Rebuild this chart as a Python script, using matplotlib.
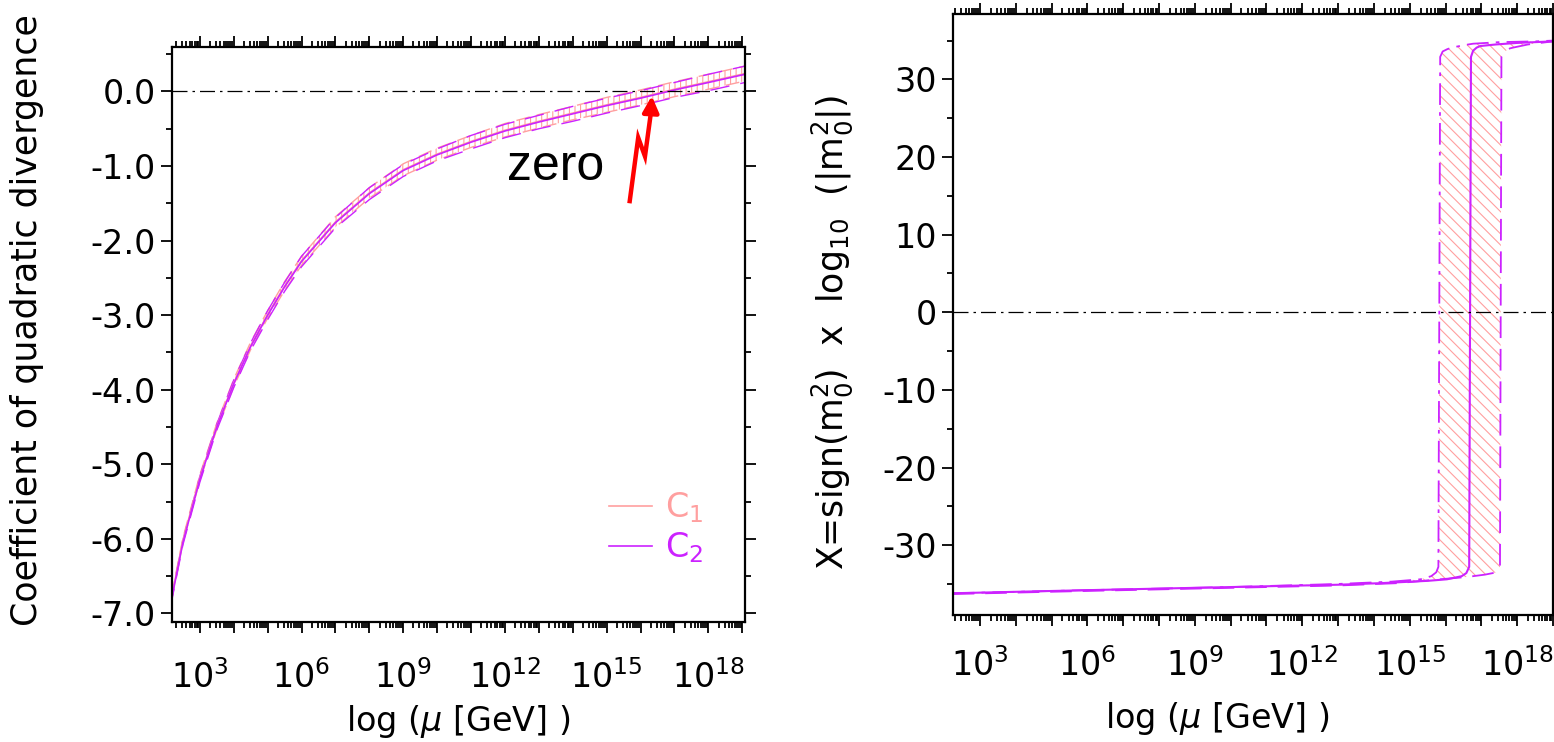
import numpy as np
import matplotlib
matplotlib.use("Agg")
import matplotlib.pyplot as plt
from matplotlib.ticker import LogLocator, FuncFormatter, MultipleLocator, NullFormatter, FormatStrFormatter

# ---------------- data: left panel ----------------
log_mu_coef = [2.17, 2.5, 3.0, 3.5, 4.0, 4.5, 5.0, 5.5, 6.0, 7.0, 8.0, 9.0,
               10.0, 11.0, 12.0, 13.0, 14.0, 15.0, 16.0, 17.0, 18.0, 19.08]
c1_central = [-6.78, -6.02, -5.18, -4.49, -3.91, -3.41, -2.99, -2.61, -2.27, -1.75, -1.36, -1.05,
              -0.84, -0.67, -0.52, -0.40, -0.29, -0.18, -0.08, 0.03, 0.13, 0.24]
c1_err = [0.03, 0.03, 0.04, 0.04, 0.05, 0.05, 0.05, 0.06, 0.06, 0.07, 0.07, 0.08,
          0.08, 0.08, 0.09, 0.09, 0.09, 0.10, 0.10, 0.10, 0.10, 0.10]
c2_central = [-6.80, -6.05, -5.20, -4.50, -3.92, -3.42, -3.00, -2.62, -2.28, -1.76, -1.37, -1.06,
              -0.85, -0.68, -0.53, -0.41, -0.30, -0.19, -0.09, 0.02, 0.12, 0.23]
c2_err = [0.03, 0.03, 0.04, 0.04, 0.05, 0.05, 0.06, 0.06, 0.07, 0.07, 0.08, 0.08,
          0.08, 0.09, 0.09, 0.09, 0.10, 0.10, 0.10, 0.10, 0.11, 0.11]
coef_yticks = [0.0, -1.0, -2.0, -3.0, -4.0, -5.0, -6.0, -7.0]
legend_labels = ["C$_1$", "C$_2$"]

# ---------------- data: right panel ----------------
log_mu_x_central = [2.24, 6.0, 10.0, 13.0, 14.17, 15.5, 16.04, 16.45, 16.58, 16.66,
                    16.71, 16.77, 16.87, 16.97, 17.4, 18.0, 19.0]
x_central = [-36.2, -35.8, -35.4, -35.1, -34.9, -34.6, -34.4, -34.0, -33.6, -32.8,
             32.9, 33.7, 34.1, 34.3, 34.5, 34.7, 34.9]
log_mu_x_low = [2.24, 6.0, 10.0, 13.0, 14.5, 15.3, 15.6, 15.74, 15.8, 15.85, 15.92,
                16.05, 16.18, 16.5, 16.77, 17.5, 18.5, 19.0]
x_low = [-36.2, -35.8, -35.4, -35.0, -34.7, -34.4, -34.0, -33.5, -32.8, 32.9, 33.6,
         33.9, 34.1, 34.4, 34.6, 34.8, 34.9, 35.0]
log_mu_x_high = [2.24, 6.0, 10.0, 13.0, 14.65, 15.85, 16.6, 17.1, 17.43, 17.52,
                 17.56, 17.65, 17.8, 17.89, 18.3, 19.0]
x_high = [-36.3, -35.9, -35.5, -35.2, -34.9, -34.4, -34.1, -33.8, -33.5, -32.8,
          32.9, 33.6, 34.0, 34.1, 34.5, 34.9]
x_yticks = [30, 20, 10, 0, -10, -20, -30]

# annotation path (log10 mu, value) for the red "zero" arrow
arrow_path_logmu = [15.68, 15.93, 16.13, 16.30]
arrow_path_val = [-1.47, -0.62, -0.87, -0.30]
arrow_tip = (16.33, -0.06)

PINK = "#ff9f9f"
MAG = "#cc22ff"

plt.rcParams["font.family"] = ["DejaVu Sans"]
plt.rcParams["hatch.linewidth"] = 0.8
plt.rcParams["mathtext.fontset"] = "dejavusans"
plt.rcParams["axes.unicode_minus"] = False

fig = plt.figure(figsize=(15.54, 7.42), dpi=100)
axL = fig.add_axes([171.7 / 1554, 1 - 621.7 / 742, (745 - 171.7) / 1554, (621.7 - 46.7) / 742])
axR = fig.add_axes([952.7 / 1554, 1 - 615 / 742, (1553 - 952.7) / 1554, (615 - 14.2) / 742])


def style_axes(ax, xpad):
    ax.set_xscale("log")
    ax.xaxis.set_major_locator(LogLocator(base=10, subs=(1.0,), numticks=40))
    ax.xaxis.set_minor_locator(LogLocator(base=10, subs=np.arange(2, 10), numticks=400))
    ax.xaxis.set_minor_formatter(NullFormatter())

    def fmt(v, pos):
        e = int(round(np.log10(v)))
        return r"$10^{%d}$" % e if e % 3 == 0 else ""

    ax.xaxis.set_major_formatter(FuncFormatter(fmt))
    ax.tick_params(which="both", direction="out", top=True, right=True, width=1.3, colors="black")
    ax.tick_params(which="major", length=8, labelsize=24)
    ax.tick_params(which="minor", length=4)
    ax.tick_params(axis="x", which="major", pad=xpad)
    for s in ax.spines.values():
        s.set_linewidth(1.6)


# ---------------- left panel ----------------
mu = 10 ** np.array(log_mu_coef)
c1 = np.array(c1_central)
c2 = np.array(c2_central)
e1 = np.array(c1_err)
e2 = np.array(c2_err)

axL.fill_between(mu, c1 - e1, c1 + e1, facecolor="none", edgecolor=PINK, hatch="|||", linewidth=0)
axL.plot(mu, c1 + e1, color=PINK, lw=1.0, ls=(0, (10, 5)))
axL.plot(mu, c1 - e1, color=PINK, lw=1.0, ls=(0, (10, 5)))
axL.plot(mu, c2 + e2, color=MAG, lw=1.0, ls=(5, (14, 8)))
axL.plot(mu, c2 - e2, color=MAG, lw=1.0, ls=(5, (14, 8)))
l1, = axL.plot(mu, c1, color=PINK, lw=1.2)
l2, = axL.plot(mu, c2, color=MAG, lw=1.2)
axL.axhline(0.0, color="black", lw=0.9, ls=(0, (12, 4, 2, 4)))

axL.set_xlim(10 ** 2.17, 10 ** 19.08)
axL.set_ylim(-7.11, 0.6)
style_axes(axL, 20)
axL.yaxis.set_major_locator(matplotlib.ticker.FixedLocator(coef_yticks))
axL.yaxis.set_major_formatter(FormatStrFormatter("%.1f"))
axL.yaxis.set_minor_locator(MultipleLocator(0.5))
axL.set_ylabel("Coefficient of quadratic divergence", fontsize=25)
axL.yaxis.set_label_coords(-0.222, 0.525)
axL.set_xlabel(r"log ($\mu$ [GeV] )", fontsize=24)
axL.xaxis.set_label_coords(0.5, -0.142)

leg = axL.legend([l1, l2], legend_labels, loc="center left", bbox_to_anchor=(0.71, 0.163),
                 frameon=False, fontsize=24, handlelength=1.3, handletextpad=0.4,
                 labelspacing=0.15, labelcolor="linecolor")

# red arrow annotation
axL.plot(10 ** np.array(arrow_path_logmu), arrow_path_val, color="red", lw=3.2,
         solid_joinstyle="miter")
axL.annotate("", xy=(10 ** arrow_tip[0], arrow_tip[1]),
             xytext=(10 ** arrow_path_logmu[-1], arrow_path_val[-1]),
             arrowprops=dict(arrowstyle="-|>", color="red", lw=3.2, mutation_scale=24,
                             shrinkA=0, shrinkB=0))
axL.text(10 ** 12.05, -1.19, "zero", fontsize=36, family="Liberation Sans", color="black",
         ha="left", va="baseline")

# ---------------- right panel ----------------
mc = 10 ** np.array(log_mu_x_central)
ml = 10 ** np.array(log_mu_x_low)
mh = 10 ** np.array(log_mu_x_high)
poly_x = np.concatenate([ml, mh[::-1]])
poly_y = np.concatenate([np.array(x_low), np.array(x_high)[::-1]])
axR.fill(poly_x, poly_y, facecolor="none", edgecolor=PINK, hatch="\\\\\\", linewidth=0)
axR.plot(ml, x_low, color=MAG, lw=1.3, ls=(0, (12, 4, 2, 4)))
axR.plot(mh, x_high, color=MAG, lw=1.3, ls=(0, (12, 6)))
axR.plot(mc, x_central, color=MAG, lw=1.5)
axR.axhline(0.0, color="black", lw=0.9, ls=(0, (12, 4, 2, 4)))

axR.set_xlim(10 ** 2.24, 10 ** 19.0)
axR.set_ylim(-39.0, 38.4)
style_axes(axR, 16)
axR.yaxis.set_major_locator(matplotlib.ticker.FixedLocator(x_yticks))
axR.yaxis.set_minor_locator(MultipleLocator(5))
axR.set_ylabel(r"X=sign(m$_0^2$)  x  log$_{10}$  (|m$_0^2$|)", fontsize=25)
axR.yaxis.set_label_coords(-0.163, 0.47)
axR.set_xlabel(r"log ($\mu$ [GeV] )", fontsize=24)
axR.xaxis.set_label_coords(0.44, -0.142)

fig.savefig("out.png", dpi=100)
